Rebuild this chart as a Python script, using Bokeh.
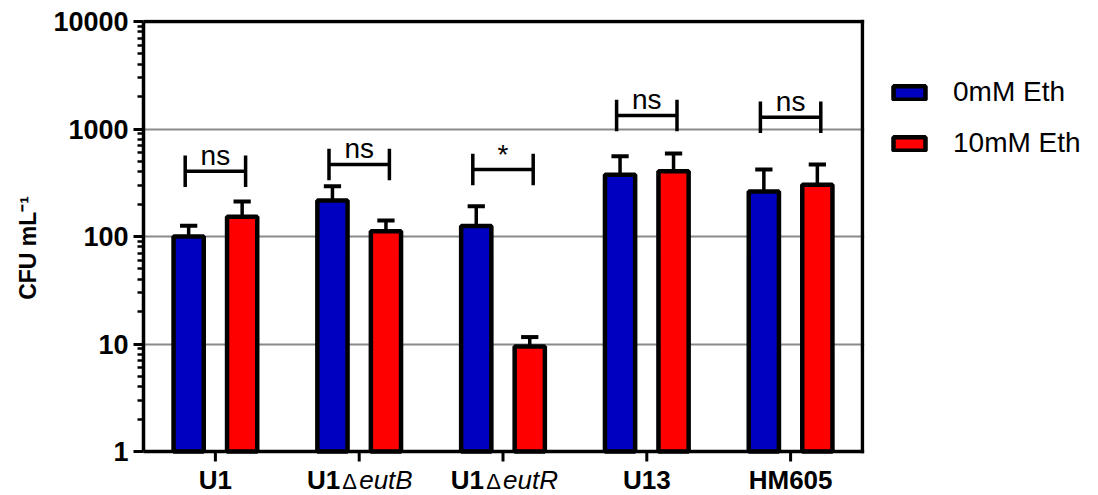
from bokeh.plotting import figure
from bokeh.models import (FixedTicker, NumeralTickFormatter, Legend, LegendItem, Range1d)
from bokeh.embed import file_html
from bokeh.resources import INLINE
from bokeh.core.properties import value

# ---------------- data ----------------
strains = ["U1", "U1ΔeutB", "U1ΔeutR", "U13", "HM605"]
eth0_mean = [100, 216, 125, 375, 262]
eth0_upper = [126, 294, 191, 558, 420]      # mean + SEM
eth10_mean = [153, 112, 9.5, 405, 303]
eth10_upper = [212, 141, 11.6, 592, 467]    # mean + SEM
sig_labels = ["ns", "ns", "*", "ns", "ns"]
sig_height = [405, 468, 420, 1336, 1288]
y_ticks = [1, 10, 100, 1000, 10000]
series_names = ["0mM Eth", "10mM Eth"]
y_title = "CFU mL⁻¹"

# ---------------- style / layout ----------------
FONT = "Liberation Sans"
BLUE = "#0000C0"
RED = "#FF0000"
OFF = 0.186
BAR_W = 0.21
CAP_HALF = 0.06
BR_HALF = 0.21
BR_TICK = 1.4

n = len(strains)
PX_DEC = 107.5            # pixels per decade
PX_CAT = 143.8            # pixels per category
PAD_TOP = 2               # room above the top border
PAD_RIGHT = 2             # room right of the right border
EXTRA_BOTTOM = 44         # room below the x axis for the category names
TICK_PX = 10
LABEL_PX = 43.5

y_lo = 10 ** (-EXTRA_BOTTOM / PX_DEC)
y_hi = 10 ** (4 + PAD_TOP / PX_DEC)
x_hi = n + PAD_RIGHT / PX_CAT

centers = [i + 0.5 for i in range(n)]
x_blue = [c - OFF for c in centers]
x_red = [c + OFF for c in centers]

p = figure(frame_width=719 + PAD_RIGHT, frame_height=430 + PAD_TOP + EXTRA_BOTTOM,
           min_border_left=143, min_border_right=232,
           min_border_top=19, min_border_bottom=0,
           x_range=Range1d(0, x_hi), y_range=Range1d(y_lo, y_hi),
           y_axis_type="log", x_axis_location=None,
           output_backend="svg", toolbar_location=None)

p.background_fill_color = "white"
p.border_fill_color = "white"
p.outline_line_color = None

# grid
p.xgrid.visible = False
p.ygrid.ticker = FixedTicker(ticks=y_ticks[1:-1])
p.ygrid.grid_line_color = "#8a8a8a"
p.ygrid.grid_line_width = 2
p.ygrid.minor_grid_line_color = None

# bars
r_blue = p.vbar(x=x_blue, width=BAR_W, bottom=1, top=eth0_mean,
                fill_color=BLUE, line_color="black", line_width=4.5)
r_red = p.vbar(x=x_red, width=BAR_W, bottom=1, top=eth10_mean,
               fill_color=RED, line_color="black", line_width=4.5)

# error bars (upper only)
for xs, m, u in [(x_blue, eth0_mean, eth0_upper), (x_red, eth10_mean, eth10_upper)]:
    p.segment(x0=xs, y0=m, x1=xs, y1=u, line_color="black", line_width=3.5)
    p.segment(x0=[x - CAP_HALF for x in xs], y0=u,
              x1=[x + CAP_HALF for x in xs], y1=u,
              line_color="black", line_width=4)

# significance brackets
p.segment(x0=[c - BR_HALF for c in centers], y0=sig_height,
          x1=[c + BR_HALF for c in centers], y1=sig_height,
          line_color="black", line_width=3.5)
for sgn in (-1, 1):
    xs = [c + sgn * BR_HALF for c in centers]
    p.segment(x0=xs, y0=[h / BR_TICK for h in sig_height],
              x1=xs, y1=[h * BR_TICK for h in sig_height],
              line_color="black", line_width=3.5)
p.text(x=centers, y=sig_height, text=sig_labels, text_align="center",
       text_baseline="bottom", y_offset=0,
       text_font=value(FONT), text_font_size="28px", text_color="black")

# frame: top and right borders, x axis line and its ticks
p.segment(x0=[0], y0=[10000], x1=[n], y1=[10000], line_color="black",
          line_width=3.5, line_cap="square")
p.segment(x0=[n], y0=[1], x1=[n], y1=[10000], line_color="black",
          line_width=3.5, line_cap="square")
p.segment(x0=centers, y0=[1] * n, x1=centers, y1=[10 ** (-TICK_PX / PX_DEC)] * n,
          line_color="black", line_width=3)
p.segment(x0=[0], y0=[1], x1=[n], y1=[1], line_color="black",
          line_width=3.5, line_cap="square")

# y axis
minor = [m * d for d in [1, 10, 100, 1000] for m in range(2, 10)]
ya = p.yaxis[0]
ya.bounds = (1, 10000)
ya.ticker = FixedTicker(ticks=y_ticks, minor_ticks=minor)
ya.formatter = NumeralTickFormatter(format="0")
ya.axis_line_width = 3.5
ya.major_tick_line_width = 3
ya.minor_tick_line_width = 2.5
ya.major_tick_out = 10
ya.major_tick_in = 0
ya.minor_tick_out = 6
ya.minor_tick_in = 0
ya.major_label_standoff = 5
ya.major_label_text_font = FONT
ya.major_label_text_font_style = "bold"
ya.major_label_text_font_size = "27px"
ya.major_label_text_color = "black"
# leading no-break spaces lift the title to the centre of the 1..10000 axis
ya.axis_label = "\u00a0" * 3 + y_title
ya.axis_label_text_font = FONT
ya.axis_label_text_font_style = "bold"
ya.axis_label_text_font_size = "23px"
ya.axis_label_text_color = "black"
ya.axis_label_standoff = 9

# category names (bold strain, Δ, italic gene)
LAB_Y = 10 ** (-LABEL_PX / PX_DEC)
plain_x, plain_t = [], []
pre_x, pre_t, post_x, post_t, delta_x = [], [], [], [], []
for c, name in zip(centers, strains):
    if "Δ" in name:
        a, b = name.split("Δ")
        pre_x.append(c); pre_t.append(a)
        post_x.append(c); post_t.append(b)
        delta_x.append(c)
    else:
        plain_x.append(c); plain_t.append(name)

common = dict(text_baseline="bottom", text_font=value(FONT), text_color="black")
p.text(x=plain_x, y=[LAB_Y] * len(plain_x), text=plain_t, text_align="center",
       text_font_style="bold", text_font_size="26px", **common)
p.text(x=pre_x, y=[LAB_Y] * len(pre_x), text=pre_t, text_align="right", x_offset=-19,
       text_font_style="bold", text_font_size="26px", **common)
p.text(x=delta_x, y=[LAB_Y] * len(delta_x), text=["Δ"] * len(delta_x), text_align="center",
       x_offset=-9.5, y_offset=-1, text_font_size="22px", **common)
p.text(x=post_x, y=[LAB_Y] * len(post_x), text=post_t, text_align="left", x_offset=0,
       text_font_style="italic", text_font_size="26px", **common)

# legend
legend = Legend(items=[LegendItem(label=series_names[0], renderers=[r_blue]),
                       LegendItem(label=series_names[1], renderers=[r_red])],
                location=(25, 336))
legend.glyph_width = 40
legend.glyph_height = 17
legend.label_standoff = 24
legend.spacing = 19
legend.padding = 0
legend.margin = 0
legend.border_line_color = None
legend.background_fill_alpha = 0
legend.label_text_font = FONT
legend.label_text_font_size = "28px"
legend.label_text_color = "black"
p.add_layout(legend, "right")

open("out.html", "w").write(file_html(p, INLINE))
